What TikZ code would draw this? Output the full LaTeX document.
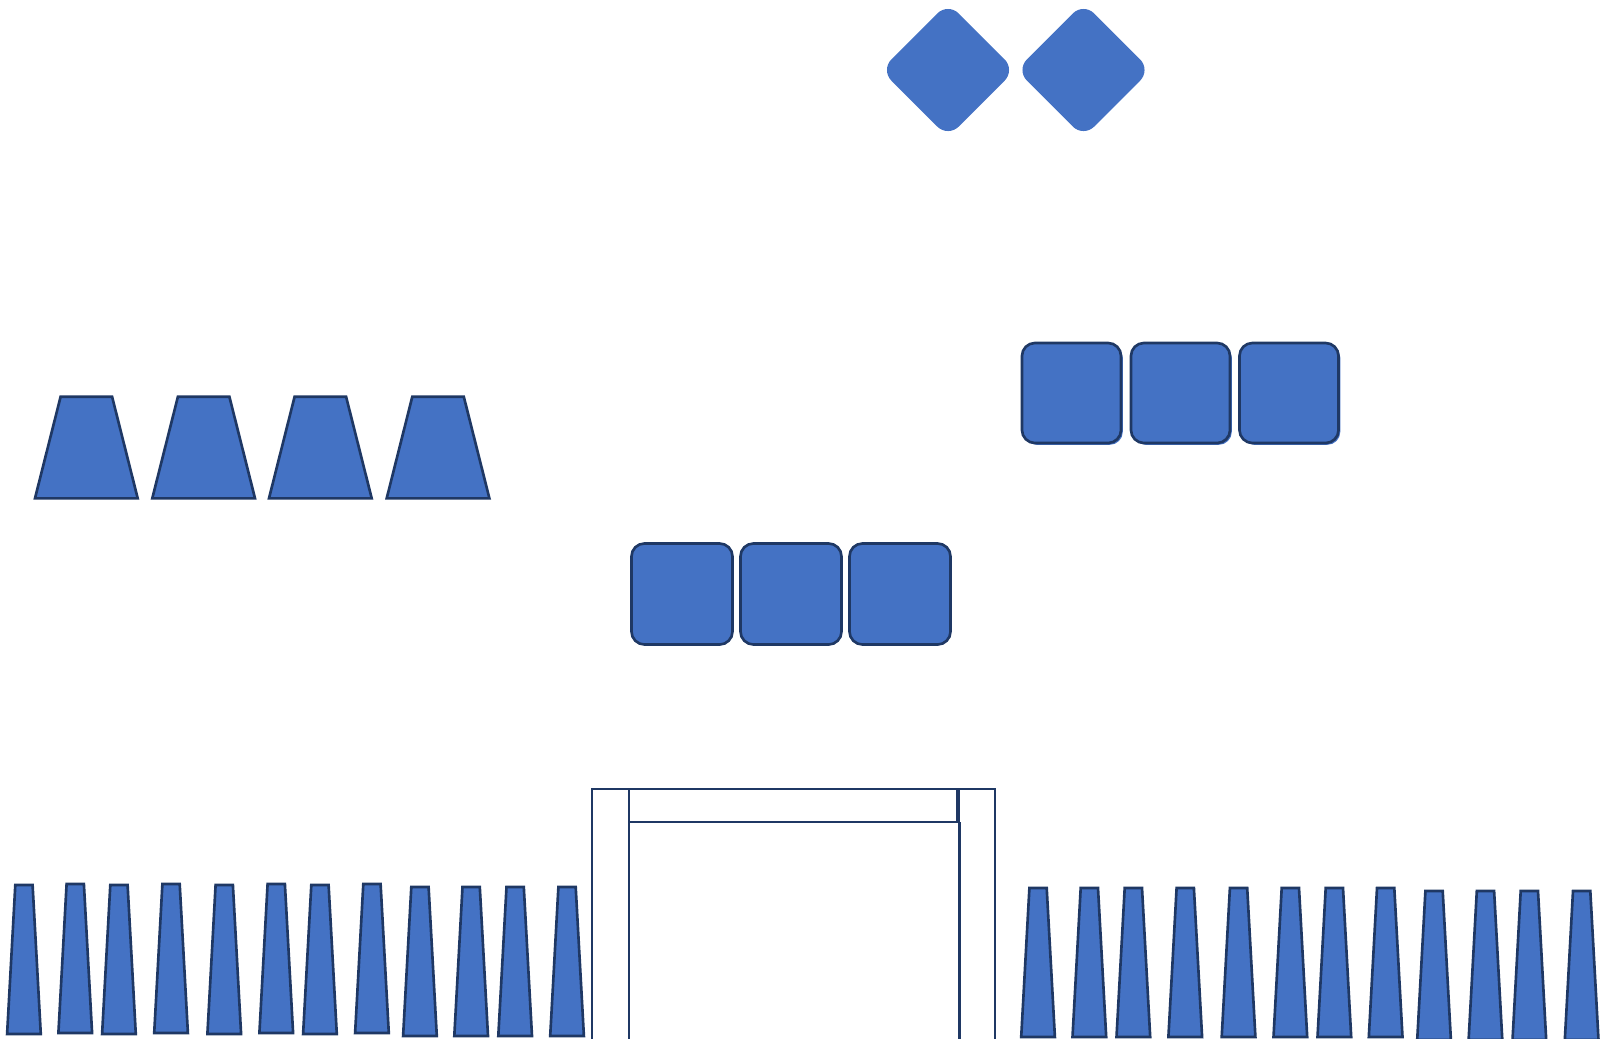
\documentclass[tikz,border=0pt]{standalone}
\usetikzlibrary{shapes.geometric,shadows}
\definecolor{seatblue}{HTML}{4472C4}
\definecolor{seatline}{HTML}{1F3864}
\begin{document}
\begin{tikzpicture}[
  x=0.01cm, y=-0.01cm,
  seat/.style={fill=seatblue, draw=seatline, line width=0.75pt, line join=miter},
  desk/.style={rectangle, rounded corners=0.13cm, fill=seatblue, draw=seatline,
    line width=0.75pt, inner sep=0pt, minimum width=1.0cm, minimum height=1.0cm},
  raised/.style={drop shadow={shadow xshift=0.5pt, shadow yshift=-0.5pt, fill=seatblue, opacity=1}},
  diamondtable/.style={diamond, fill=seatblue, inner sep=0pt, minimum width=1.35cm,
    minimum height=1.35cm, rounded corners=0.15cm},
  wall/.style={draw=seatline, line width=0.7pt}
]
  \useasboundingbox (0,0) rectangle (1600,1038);
  \clip (0,0) rectangle (1600,1038);

  % tables at the top
  \node[diamondtable] (t1) at (948,70) {};
  \node[diamondtable] (t2) at (1083.5,70) {};

  % desks, right
  \node[desk, raised, minimum width=0.99cm] (r1) at (1071.5,393) {};
  \node[desk, raised, minimum width=0.99cm] (r2) at (1180.5,393) {};
  \node[desk, raised, minimum width=0.99cm] (r3) at (1289,393) {};

  % desks, middle
  \node[desk, minimum size=1.01cm] (m1) at (682,594) {};
  \node[desk, minimum size=1.01cm] (m2) at (791,594) {};
  \node[desk, minimum size=1.01cm] (m3) at (900,594) {};

  % wide chairs, left
  \foreach \x in {35,152.3,269,386.7}
    \draw[seat] (\x,498.3) -- ++(102.7,0) -- ++(-25.6,-101.6) -- ++(-51.5,0) -- cycle;

  % narrow chairs along the bottom
  \foreach \x/\y in {7.1/1034,58.4/1033,102.1/1034,154.2/1033,207.4/1034,259.4/1033,
      303.1/1034,355.1/1033,403.1/1036,454.3/1036,498.3/1036,550.2/1036,
      1021.2/1037,1072.5/1037,1116.5/1037,1168.4/1037,1221.7/1037,1273.5/1037,
      1317.5/1037,1368.8/1037,1417.2/1040,1468.6/1040,1512.5/1040,1564.8/1040}
    \draw[seat] (\x,\y) -- ++(33.7,0) -- ++(-8.2,-149) -- ++(-17.3,0) -- cycle;

  % door frame
  \draw[wall] (592,1045) -- (592,789) -- (995,789) -- (995,1045);
  \draw[wall] (629,1045) -- (629,789);
  \draw[wall] (959.5,1045) -- (959.5,822);
  \draw[wall] (629,822) -- (958,822);
  \draw[wall, line width=1pt] (958,822) -- (958,789);
\end{tikzpicture}
\end{document}
